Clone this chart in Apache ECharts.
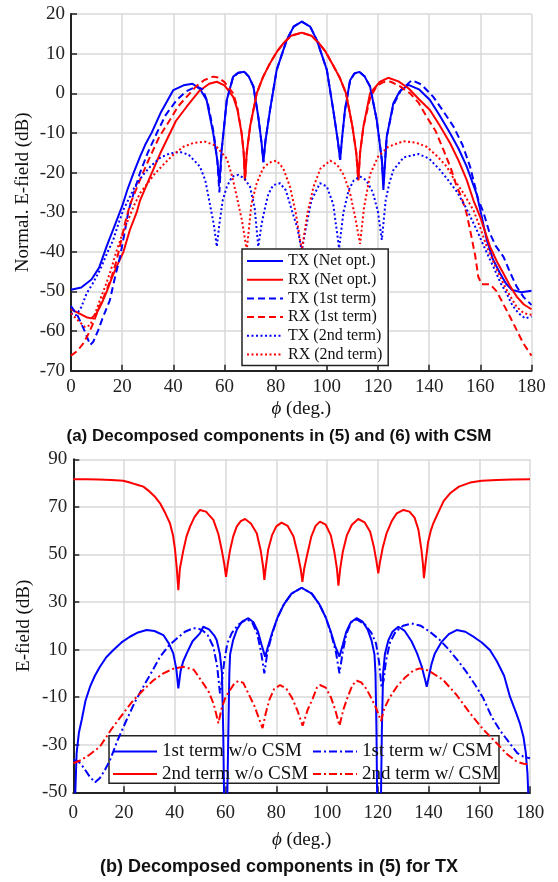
<!DOCTYPE html>
<html>
<head>
<meta charset="utf-8">
<script src="https://cdn.jsdelivr.net/npm/echarts@6/dist/echarts.min.js"></script>
<style>
  html, body { margin: 0; padding: 0; background: #fff; }
  #main { width: 558px; height: 882px; }
</style>
</head>
<body>
<div id="main"></div>
<script>
// ---- (a) top chart: normalized E-field, [phi, dB] ----
const txNet = [[0,-49.6],[4,-49],[8,-47],[11,-44],[14,-38.5],[17,-33.5],[20,-28.5],[22,-24.4],[24.5,-20],[27,-16],[29,-13],[31.5,-10],[35,-5],[40,0.8],[44,2],[47.5,2.4],[50.5,1],[53,-1.7],[55.6,-10.1],[57.2,-17],[58,-22.7],[58.9,-14.3],[60.9,-1.7],[63.4,4.2],[65.5,5.2],[67.8,5.4],[69.5,4.2],[71.3,1.7],[73.2,-5.9],[74.5,-12.6],[75.2,-17.4],[76,-12],[77.8,-4.2],[80.4,5.9],[84.3,13.4],[87,16.8],[90.2,18.1],[93.5,16.8],[96.1,13.4],[100,5.9],[102.5,-4.2],[104.3,-12],[105.2,-16.8],[106,-11],[107.1,-4.2],[109.1,3.3],[110.8,5],[112.7,5.4],[114.8,4.2],[116.9,1.7],[119.5,-6.7],[121.5,-16.8],[122.1,-24.4],[123.4,-11],[126,-2.5],[128.5,0.5],[131.9,2.1],[136,1],[140.3,-1.7],[144,-5.5],[148.2,-10.1],[151.5,-14],[154.7,-18.5],[158.6,-25.5],[160.5,-31],[162.5,-37],[165,-42],[167.7,-45.4],[170,-48],[172.3,-49.6],[176,-50.2],[180,-49.8]];
const rxNet = [[0,-54.5],[3,-55.5],[6,-56.5],[8,-56.8],[10,-55.5],[12,-53],[14,-50],[16,-46.5],[18,-43.5],[20.5,-40],[23,-34.5],[25.7,-30],[27,-27],[30,-22.5],[33,-18],[35,-15],[37.4,-11.8],[41,-7],[45.2,-3.4],[50,0.5],[54,2.4],[57,2.9],[60,2],[63.4,-0.9],[65,-4],[66.7,-10.1],[67.5,-15],[68,-22],[68.7,-15],[70,-8.4],[72.6,0],[75,4],[77.8,7.6],[80.5,10.5],[83,12.6],[86,14.5],[90.2,15.3],[94,14.5],[97,12.6],[99.5,10.5],[102,7.6],[105,4],[107.5,0],[110,-8.4],[111.5,-15],[112.3,-22],[113,-15],[114.3,-8.4],[116.9,0],[120.8,2.9],[124,3.9],[128,3],[132,1.2],[136,-1.5],[140.3,-4.2],[144,-8],[148.2,-12.6],[151.5,-17],[154.7,-21.9],[157.3,-27],[159.9,-31.1],[163.8,-38.7],[166.5,-42.5],[169,-45.4],[171.5,-48.5],[174.2,-51.3],[177,-53.3],[180,-54.5]];
const tx1st = [[0,-53.7],[2.5,-56],[5,-59.5],[7.5,-63.5],[8.7,-62.7],[10.5,-60],[12.5,-56.5],[15.2,-52.2],[17,-47],[19.2,-41.2],[21,-35],[22.4,-29.9],[23.7,-26.9],[27,-20],[30,-15],[33.5,-10.1],[37,-5.5],[41.3,-1.7],[45,0.5],[49.1,1.7],[51.5,1],[53.5,-2.5],[55.8,-10.1],[57.2,-17],[58,-25],[58.9,-14.3],[60.9,-1.7],[63.4,4.2],[65.5,5.2],[67.8,5.4],[69.5,4.2],[71.3,1.7],[73.2,-5.9],[74.5,-12.6],[75.2,-17.4],[76,-12],[77.8,-4.2],[80.4,5.9],[84.3,13.4],[87,16.8],[90.2,18.1],[93.5,16.8],[96.1,13.4],[100,5.9],[102.5,-4.2],[104.3,-12],[105.2,-16.8],[106,-11],[107.1,-4.2],[109.1,3.3],[110.8,5],[112.7,5.4],[114.8,4.2],[116.9,1.7],[119.5,-6.7],[121.5,-16.8],[122.1,-23],[123.4,-11],[126,-3],[129,0.8],[133.2,3.3],[137,2.2],[141.6,-0.9],[145.5,-4.5],[149.5,-8.4],[153,-13],[156,-18.5],[159.2,-26.9],[161.2,-30],[163.5,-35],[166,-38.5],[169,-41.2],[171.5,-45],[174.2,-48.8],[177,-51.5],[180,-53.4]];
const rx1st = [[0,-66.2],[2.5,-65],[4.8,-63.1],[7,-60.5],[8.7,-58],[11,-54],[14,-49.6],[16,-46],[17.9,-42],[19.5,-37.5],[21.1,-32.8],[23.1,-28],[24.4,-26],[27.5,-21],[30.9,-16],[34.5,-11],[38.7,-6.7],[42,-3.2],[45.2,-0.9],[49,1.8],[52,3.3],[55.6,4.2],[57.5,4],[60,2.8],[63.4,0],[65,-3.5],[66.7,-10.1],[67.5,-15],[68,-22],[68.7,-15],[70,-8.4],[72.6,0],[75,4],[77.8,7.6],[80.5,10.5],[83,12.6],[86,14.5],[90.2,15.3],[94,14.5],[97,12.6],[99.5,10.5],[102,7.6],[105,4],[107.5,0],[110,-8.4],[111.5,-15],[112.3,-22],[113,-15],[114.3,-8.4],[117,-1],[119.5,1.8],[122,2.8],[125,2.9],[128.5,1.8],[132.5,0],[136,-2.5],[139,-5.9],[142.5,-9.5],[145.6,-14.3],[148.5,-19],[150.8,-23.6],[152.5,-26],[154.5,-30],[156,-34.5],[158,-41],[159.2,-46.3],[160.5,-48.2],[163.8,-48.2],[166.4,-50],[171.6,-56.4],[176.8,-63.1],[180,-66.2]];
const tx2nd = [[0,-55.5],[2,-56],[4,-54],[6.1,-50.5],[8.5,-48],[11.3,-44.6],[14,-40.5],[16.5,-37],[18.5,-33],[20.4,-29.5],[22.4,-26.9],[25,-23.5],[28.3,-20.5],[31,-18.5],[34.8,-16.3],[38.5,-15.2],[42.6,-14.8],[46,-15.5],[50.4,-18.5],[52.5,-22],[54.3,-28],[55.8,-33],[57,-38.7],[58,-33],[59.3,-27],[60.9,-23.6],[63,-21],[65.4,-20.6],[67.8,-21.5],[70,-23.6],[71.8,-29],[73.2,-38.7],[74.5,-33],[75.8,-29],[77.1,-25.5],[79,-23.2],[81.7,-22.7],[84,-24.5],[86.3,-29.5],[88.5,-34],[90.2,-39.8],[91.8,-34],[94,-27],[97.3,-22.7],[100,-23.5],[102.5,-28],[104.8,-39.1],[106.5,-30],[108.5,-24.5],[110.5,-22],[113,-21],[115.5,-22],[118,-25],[120,-30],[121.5,-37],[123,-27],[124.5,-22.5],[126,-19.4],[130,-16.2],[135.8,-15.3],[140,-16.5],[144.3,-19.4],[147.5,-22],[150.8,-24.8],[154.5,-29],[158.6,-34.5],[162,-39.5],[165.1,-43.8],[168,-48],[170.3,-50.5],[172.5,-53.5],[174.9,-55.5],[177.5,-56.8],[180,-56.3]];
const rx2nd = [[0,-55.5],[3,-57.5],[5.5,-59],[7.5,-58.5],[9.5,-55.5],[11.3,-52.2],[13.5,-48.5],[15.2,-45.4],[17.9,-39.6],[19.8,-36],[21.8,-32.8],[24.5,-28.5],[27,-25.2],[29.6,-23],[32.5,-20.5],[36.1,-18],[40,-15.5],[43.9,-13.5],[48,-12.5],[52.4,-12.2],[56.5,-13.2],[60.9,-16.5],[63,-21],[64.8,-26.1],[66.8,-32],[68.7,-39.6],[70.5,-28],[72.6,-22.7],[75,-19],[77.5,-17.5],[80.4,-17],[83,-19],[85.6,-23.6],[87.8,-30],[90.2,-39.6],[92.5,-30],[94.8,-23.6],[97.5,-19],[101.3,-17],[104,-18],[106.5,-20.5],[109,-25],[111,-31],[113,-38],[114.5,-29],[116.9,-20.5],[120,-16],[124,-13.5],[129.9,-12.1],[135,-12.5],[139,-13.5],[143,-15.8],[146.9,-18.5],[150,-22],[153.4,-25.2],[157.3,-29.5],[160,-34],[162.5,-38.7],[165.8,-43.5],[169,-48],[171.5,-51],[174.2,-53.9],[177,-55.5],[180,-55.9]];

// ---- (b) bottom chart: TX components, [phi, dB] ----
const t1NoCsm = [[0,-62],[0.8,-50],[1.3,-33.6],[2.2,-25],[3.3,-19.6],[4.8,-11.5],[6.6,-5.6],[8.5,-1],[10.5,2.8],[13,6.8],[15.8,9.8],[19,13],[22.3,15.4],[25.5,17.2],[28.9,18.2],[32,17.8],[35.5,16.1],[37.7,12.5],[39.4,8.4],[40.6,2],[41.4,-6.3],[42.3,1],[43.3,5],[44.7,8.4],[47,13.5],[49.9,16.8],[51.2,19.6],[53.5,18.5],[55.5,16],[56.5,14],[57.8,8],[58.6,0],[59.1,-25],[59.5,-58],[60.6,-58],[61.1,-25],[61.5,0],[61.8,8],[63,14],[64.5,18.5],[66.5,21.8],[69,23.2],[71,21.5],[72.8,17.5],[74.2,12],[75.6,7],[76.8,11.5],[78.5,17.5],[80.5,23.5],[83,29],[86,33.5],[90,36],[94,33.5],[97,29],[99.5,23.5],[101.5,17.5],[103.2,11.5],[104.9,7],[106.2,12],[107.6,17.5],[109.4,21.5],[111.7,23.2],[114,21.8],[116,18.5],[117.5,14],[118.7,8],[119.1,0],[119.5,-25],[119.8,-58],[121.2,-58],[121.6,-25],[122.1,0],[122.8,8],[124.2,14],[125.8,17.5],[128.1,19.6],[130.5,18],[133.3,13.5],[135.5,8.4],[137.3,3],[138.5,-2],[139.3,-5.6],[140.2,-1],[141.2,4],[142.5,8.4],[145,13],[148,16.5],[151.1,18.2],[154.5,17.5],[158,15.2],[161,13],[164.2,9.8],[167,5],[169.8,-1],[172.1,-9.8],[174.5,-16.5],[176,-21],[177.4,-26.6],[178.3,-33],[179,-42],[179.3,-50],[180,-62]];
const t1Csm = [[0,-36.4],[2,-37],[4,-39.5],[6.5,-43.5],[8.6,-45.8],[10.5,-44],[12.5,-40.5],[14.5,-36.4],[17.5,-28],[21,-19.6],[24.3,-12],[27.6,-5.6],[31,0.8],[34.2,7],[37.5,11.5],[40.8,14.7],[44,17.5],[47.3,19],[49,19],[51,18],[53,16],[55.2,11.2],[56.7,3],[57.8,-8.4],[58.6,-3],[59.5,5],[60.7,12.6],[62.5,17],[65,20.5],[68.3,22.7],[70.5,21.5],[72.5,16.5],[74,9],[75.3,0],[76.5,9],[78.5,17],[80.5,23.5],[83,29],[86,33.5],[90,36],[94,33.5],[97,29],[99.5,23.5],[101.5,17],[103.5,9],[104.9,0],[106.2,9],[107.6,16.5],[109.5,21.5],[111.7,22.7],[115,20.5],[117.5,17],[119.3,12.6],[120.5,5],[121.5,-6],[122.3,-3],[123.2,5],[124.8,13],[127,17.5],[130,20],[133.4,21],[137,20],[140.5,17.5],[144.5,14],[148,10],[151.5,5.5],[155,0.5],[158.5,-5],[161.6,-10.5],[165,-18.5],[168.2,-24],[172.1,-29.5],[175,-33.5],[177.4,-35],[180,-35.7]];
const t2NoCsm = [[0,81.6],[5,81.6],[10,81.5],[15,81.3],[19.7,81],[23,80],[25.5,79.2],[27.6,78.5],[30,76.5],[32,74.5],[34.2,71.5],[36.2,67.5],[38.1,63.1],[39.3,58],[40.1,51.9],[40.8,44],[41.4,35],[42,44],[43.4,51.9],[44.6,57.5],[46,61.7],[47.8,65.8],[49.9,68.7],[52.3,68],[55.2,64.5],[57.2,58.5],[58.5,51.9],[59.5,46],[60.2,40.6],[60.9,46],[61.8,51.9],[63,57.5],[64.4,61.7],[66,64],[67.7,64.9],[70,63],[72.3,58.9],[73.8,52],[74.8,45],[75.3,39.3],[75.9,45],[76.8,52],[78.3,58],[80,61.8],[82.1,63.4],[84.5,62],[86.8,57.5],[88.5,50],[89.6,44],[90.3,38.5],[91,44],[92.2,50],[93.8,57.5],[95.5,62],[97.2,63.8],[99.5,62.5],[101.5,58],[102.9,51],[103.9,44],[104.5,36.9],[105.2,44],[106.2,51],[107.8,58],[109.8,62.5],[112.3,64.9],[114.8,63.5],[117,59.5],[118.5,53],[119.5,47],[120.2,42.1],[120.9,47],[122,53],[123.5,59],[125.5,64],[127.5,67.3],[130.1,68.7],[132.5,68],[134.5,65.5],[136,60.5],[137.2,52],[137.8,46],[138.2,40],[138.8,46],[139.8,55],[140.9,60],[141.9,63.1],[144,68],[146,72.5],[148.5,75.7],[152,78.5],[156.4,80.2],[161,81],[166.9,81.3],[173,81.5],[180,81.6]];
const t2Csm = [[0,-37.8],[3,-36.5],[6,-34.5],[10.5,-30.8],[15,-23.5],[19.7,-16.8],[23.5,-11.5],[27.6,-7],[31.5,-3],[35.5,0],[39.5,2],[43.4,2.8],[47.5,1.5],[51.2,-4.2],[53.5,-8],[55.2,-12.6],[56.3,-17],[57.2,-21],[58.5,-14.5],[60,-10],[61.8,-7],[63.5,-4.2],[65,-3.2],[67,-4],[69.6,-9.8],[71.5,-14],[73,-18.5],[74.6,-23],[75.8,-17],[77.3,-11],[79.2,-6.5],[81.5,-4.9],[84,-6.5],[86.3,-10.5],[88.3,-15.5],[90.4,-22],[92.3,-15.5],[94.4,-10.5],[96,-6],[97.2,-4.9],[99.5,-6],[101.5,-10],[103.3,-15.5],[104.9,-22],[106.5,-15],[108.3,-9.5],[110,-5],[111.7,-3.1],[113.5,-3.8],[115.5,-6.5],[117.5,-10.5],[119.5,-15],[121.3,-20],[122.5,-15],[124.5,-10.5],[127.5,-5.6],[131,-1.5],[134,1.2],[136.6,2.1],[140,1.2],[145.8,-2.8],[151,-9],[156.4,-16.8],[161.5,-23.5],[166.9,-29.4],[171,-34],[174.8,-37.1],[177.5,-38],[180,-38.1]];

const topYTicks = [-70,-60,-50,-40,-30,-20,-10,0,10,20];
const botYTicks = [-50,-30,-10,10,30,50,70,90];

const BLUE = '#0000ff';
const RED = '#ff0000';
const SERIF = '"Liberation Serif", "Times New Roman", serif';
const SANS = '"Liberation Sans", Arial, sans-serif';
const DASH = [7, 4];
const DOT = [2, 2.5];
const DASHDOT = [8, 3, 2, 3];

const chart = echarts.init(document.getElementById('main'), null, { renderer: 'canvas' });

function line(name, data, color, type, idx) {
  return {
    name: name,
    type: 'line',
    xAxisIndex: idx,
    yAxisIndex: idx,
    data: data,
    symbol: 'none',
    showSymbol: false,
    clip: true,
    animation: false,
    lineStyle: { color: color, width: 2, type: type },
    itemStyle: { color: color }
  };
}

function xAx(idx, margin, gap) {
  return {
    gridIndex: idx,
    type: 'value',
    min: 0,
    max: 180,
    interval: 20,
    name: '{i|ϕ} (deg.)',
    nameLocation: 'middle',
    nameGap: gap,
    nameMoveOverlap: false,
    nameTextStyle: {
      fontFamily: SERIF, fontSize: 19, color: '#111',
      rich: { i: { fontFamily: SERIF, fontSize: 19, fontStyle: 'italic', color: '#111' } }
    },
    axisLine: { show: true, onZero: false, lineStyle: { color: '#222', width: 2 } },
    axisTick: { show: true, inside: true, length: 6, lineStyle: { color: '#222', width: 1.5 } },
    axisLabel: { margin: margin, fontFamily: SERIF, fontSize: 19, color: '#222', showMinLabel: true, showMaxLabel: true },
    splitLine: { show: true, lineStyle: { color: '#d9d9d9', width: 1.5 } }
  };
}

function yAx(idx, min, max, ticks, name, gap) {
  return {
    gridIndex: idx,
    type: 'value',
    min: min,
    max: max,
    name: name,
    nameLocation: 'middle',
    nameGap: gap,
    nameMoveOverlap: false,
    nameTextStyle: { fontFamily: SERIF, fontSize: 19, color: '#111' },
    axisLine: { show: true, onZero: false, lineStyle: { color: '#222', width: 2 } },
    axisTick: { show: true, inside: true, length: 6, customValues: ticks, lineStyle: { color: '#222', width: 1.5 } },
    axisLabel: { margin: 6, customValues: ticks, fontFamily: SERIF, fontSize: 19, color: '#222', showMinLabel: true, showMaxLabel: true },
    splitLine: { show: true, lineStyle: { color: '#d9d9d9', width: 1.5 } }
  };
}

const legendText = { fontFamily: SERIF, color: '#111' };
// hide the marker that ECharts puts in the middle of a line legend icon
const noMarker = { color: 'transparent', borderWidth: 0, opacity: 0 };

const option = {
  backgroundColor: '#fff',
  animation: false,
  grid: [
    { left: 71, top: 14, width: 460.5, height: 356.7, outerBoundsMode: 'none' },
    { left: 73.3, top: 459.3, width: 456.7, height: 333, outerBoundsMode: 'none' }
  ],
  xAxis: [xAx(0, 7, 29), xAx(1, 11, 38)],
  yAxis: [
    yAx(0, -70, 20, topYTicks, 'Normal. E-field (dB)', 38),
    yAx(1, -50, 90, botYTicks, 'E-field (dB)', 40)
  ],
  legend: [
    {
      orient: 'vertical', left: 242, top: 249,
      padding: [4, 6, 3, 4], itemWidth: 36, itemHeight: 14, itemGap: 2.7,
      backgroundColor: '#fff', borderColor: '#222', borderWidth: 1.5,
      itemStyle: noMarker,
      textStyle: Object.assign({ fontSize: 16 }, legendText),
      data: ['TX (Net opt.)', 'RX (Net opt.)', 'TX (1st term)', 'RX (1st term)', 'TX (2nd term)', 'RX (2nd term)']
    },
    {
      orient: 'vertical', left: 112, top: 742, padding: 0,
      itemWidth: 44, itemHeight: 14, itemGap: 3.4,
      itemStyle: noMarker,
      textStyle: Object.assign({ fontSize: 19 }, legendText),
      data: ['1st term w/o CSM', '2nd term w/o CSM']
    },
    {
      orient: 'vertical', left: 312, top: 742, padding: 0,
      itemWidth: 44, itemHeight: 14, itemGap: 3.4,
      itemStyle: noMarker,
      textStyle: Object.assign({ fontSize: 19 }, legendText),
      data: ['1st term w/ CSM', '2nd term w/ CSM']
    }
  ],
  graphic: [
    {
      type: 'rect', z: 3,
      shape: { x: 109, y: 735.7, width: 390, height: 47.6 },
      style: { fill: '#fff', stroke: '#222', lineWidth: 1.5 }
    },
    {
      type: 'text', left: 'center', top: 428,
      style: { text: '(a) Decomposed components in (5) and (6) with CSM', font: 'bold 17px ' + SANS, fill: '#111' }
    },
    {
      type: 'text', left: 'center', top: 858,
      style: { text: '(b) Decomposed components in (5) for TX', font: 'bold 18px ' + SANS, fill: '#111' }
    }
  ],
  series: [
    line('TX (Net opt.)', txNet, BLUE, 'solid', 0),
    line('RX (Net opt.)', rxNet, RED, 'solid', 0),
    line('TX (1st term)', tx1st, BLUE, DASH, 0),
    line('RX (1st term)', rx1st, RED, DASH, 0),
    line('TX (2nd term)', tx2nd, BLUE, DOT, 0),
    line('RX (2nd term)', rx2nd, RED, DOT, 0),
    line('1st term w/o CSM', t1NoCsm, BLUE, 'solid', 1),
    line('2nd term w/o CSM', t2NoCsm, RED, 'solid', 1),
    line('1st term w/ CSM', t1Csm, BLUE, DASHDOT, 1),
    line('2nd term w/ CSM', t2Csm, RED, DASHDOT, 1)
  ]
};

chart.setOption(option);
</script>
</body>
</html>
